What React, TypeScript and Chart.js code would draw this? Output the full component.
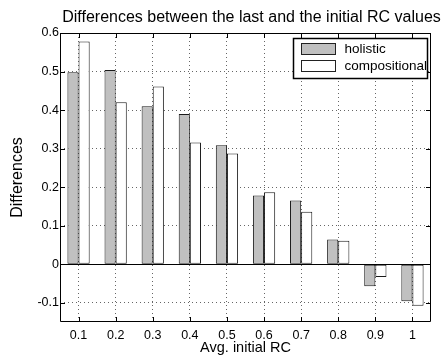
import React, { useEffect, useRef } from 'react';
import { Chart, registerables } from 'chart.js';

Chart.register(...registerables);

const categories = ['0.1', '0.2', '0.3', '0.4', '0.5', '0.6', '0.7', '0.8', '0.9', '1'];
const holistic = [0.498, 0.504, 0.41, 0.39, 0.309, 0.178, 0.165, 0.064, -0.057, -0.096];
const compositional = [0.578, 0.42, 0.461, 0.316, 0.287, 0.187, 0.136, 0.061, -0.033, -0.108];
const yTicks = [-0.1, 0, 0.1, 0.2, 0.3, 0.4, 0.5, 0.6];
const Y_MIN = -0.15;
const Y_MAX = 0.6;
const TITLE = 'Differences between the last and the initial RC values';
const X_TITLE = 'Avg. initial RC';
const Y_TITLE = 'Differences';
const seriesNames = ['holistic', 'compositional'];
const seriesColors = ['#c0c0c0', '#ffffff'];

const FONT = '"Liberation Sans", Arial, Helvetica, sans-serif';

const matlabPlugin = {
  id: 'matlabDecor',
  afterDatasetsDraw(chart: any) {
    const { ctx, chartArea, scales } = chart;
    const { left, right, top, bottom } = chartArea;
    const x = scales.x;
    const y = scales.y;
    ctx.save();
    ctx.strokeStyle = '#000';
    ctx.lineWidth = 1;
    // zero baseline
    const y0 = Math.round(y.getPixelForValue(0)) + 0.5;
    ctx.beginPath();
    ctx.moveTo(left, y0);
    ctx.lineTo(right, y0);
    ctx.stroke();
    // box
    ctx.beginPath();
    ctx.rect(Math.round(left) + 0.5, Math.round(top) + 0.5, Math.round(right - left) - 1, Math.round(bottom - top) - 1);
    ctx.stroke();
    // inward ticks
    const tl = 5;
    ctx.beginPath();
    categories.forEach((_, i) => {
      const px = Math.round(x.getPixelForValue(i)) + 0.5;
      ctx.moveTo(px, bottom);
      ctx.lineTo(px, bottom - tl);
      ctx.moveTo(px, top);
      ctx.lineTo(px, top + tl);
    });
    yTicks.forEach((v) => {
      const py = Math.round(y.getPixelForValue(v)) + 0.5;
      ctx.moveTo(left, py);
      ctx.lineTo(left + tl, py);
      ctx.moveTo(right, py);
      ctx.lineTo(right - tl, py);
    });
    ctx.stroke();

    // legend
    const lw = 134;
    const lh = 40;
    const lx = Math.round(right - 4.5 - lw) + 0.5;
    const ly = Math.round(top + 5) + 0.5;
    ctx.fillStyle = '#fff';
    ctx.fillRect(lx, ly, lw, lh);
    ctx.lineWidth = 1.5;
    ctx.strokeRect(lx, ly, lw, lh);
    ctx.lineWidth = 1;
    ctx.font = `13.5px ${FONT}`;
    ctx.textBaseline = 'middle';
    ctx.textAlign = 'left';
    seriesNames.forEach((name, i) => {
      const sy = ly + 5 + i * 17;
      ctx.fillStyle = seriesColors[i];
      ctx.fillRect(lx + 8, sy, 34, 11);
      ctx.strokeStyle = '#222';
      ctx.strokeRect(lx + 8, sy, 34, 11);
      ctx.fillStyle = '#000';
      ctx.fillText(name, lx + 51, sy + 6);
    });

    // title
    ctx.font = `16px ${FONT}`;
    ctx.textAlign = 'center';
    ctx.textBaseline = 'middle';
    ctx.fillStyle = '#000';
    ctx.fillText(TITLE, (left + right) / 2 + 6, 18);
    ctx.restore();
  },
};

export default function App() {
  const ref = useRef<HTMLCanvasElement | null>(null);
  useEffect(() => {
    document.body.style.margin = '0';
    const canvas = ref.current;
    if (!canvas) return;
    const chart = new Chart(canvas, {
      type: 'bar',
      data: {
        labels: categories,
        datasets: [
          {
            label: seriesNames[0],
            data: holistic,
            backgroundColor: seriesColors[0],
            borderColor: '#1a1a1a',
            borderWidth: 1,
            borderSkipped: false,
            barPercentage: 1,
            categoryPercentage: 0.6,
          },
          {
            label: seriesNames[1],
            data: compositional,
            backgroundColor: seriesColors[1],
            borderColor: '#1a1a1a',
            borderWidth: 1,
            borderSkipped: false,
            barPercentage: 1,
            categoryPercentage: 0.6,
          },
        ],
      },
      options: {
        responsive: false,
        animation: false,
        layout: { padding: { left: 0, right: 10, top: 33, bottom: 0 } },
        plugins: {
          legend: { display: false },
          title: { display: false },
          tooltip: { enabled: false },
        },
        scales: {
          x: {
            type: 'category',
            offset: true,
            grid: {
              offset: false,
              drawTicks: false,
              color: '#666',
              lineWidth: 1,
            },
            border: { display: false, dash: [1, 3] },
            ticks: {
              padding: 6,
              color: '#000',
              font: { family: FONT, size: 12.5 },
              maxRotation: 0,
              autoSkip: false,
            },
            title: {
              display: true,
              text: X_TITLE,
              color: '#000',
              font: { family: FONT, size: 14.5 },
              padding: { top: 0, bottom: 1 },
            },
            afterFit: (scale: any) => {
              scale.height = 36;
            },
          },
          y: {
            type: 'linear',
            min: Y_MIN,
            max: Y_MAX,
            grid: {
              drawTicks: false,
              color: '#666',
              lineWidth: 1,
            },
            border: { display: false, dash: [1, 3] },
            afterBuildTicks: (scale: any) => {
              scale.ticks = yTicks.map((v) => ({ value: v }));
            },
            ticks: {
              padding: 1,
              color: '#000',
              font: { family: FONT, size: 12.5 },
              callback: (v: any) => String(Math.round(Number(v) * 10) / 10),
            },
            title: {
              display: true,
              text: Y_TITLE,
              color: '#000',
              font: { family: FONT, size: 16 },
              padding: { top: 8, bottom: 0 },
            },
            afterFit: (scale: any) => {
              scale.width = 60;
            },
          },
        },
      },
      plugins: [matlabPlugin],
    } as any);
    return () => chart.destroy();
  }, []);
  return (
    <div style={{ width: 441, height: 358 }}>
      <canvas ref={ref} width={441} height={358} style={{ display: 'block' }} />
    </div>
  );
}
